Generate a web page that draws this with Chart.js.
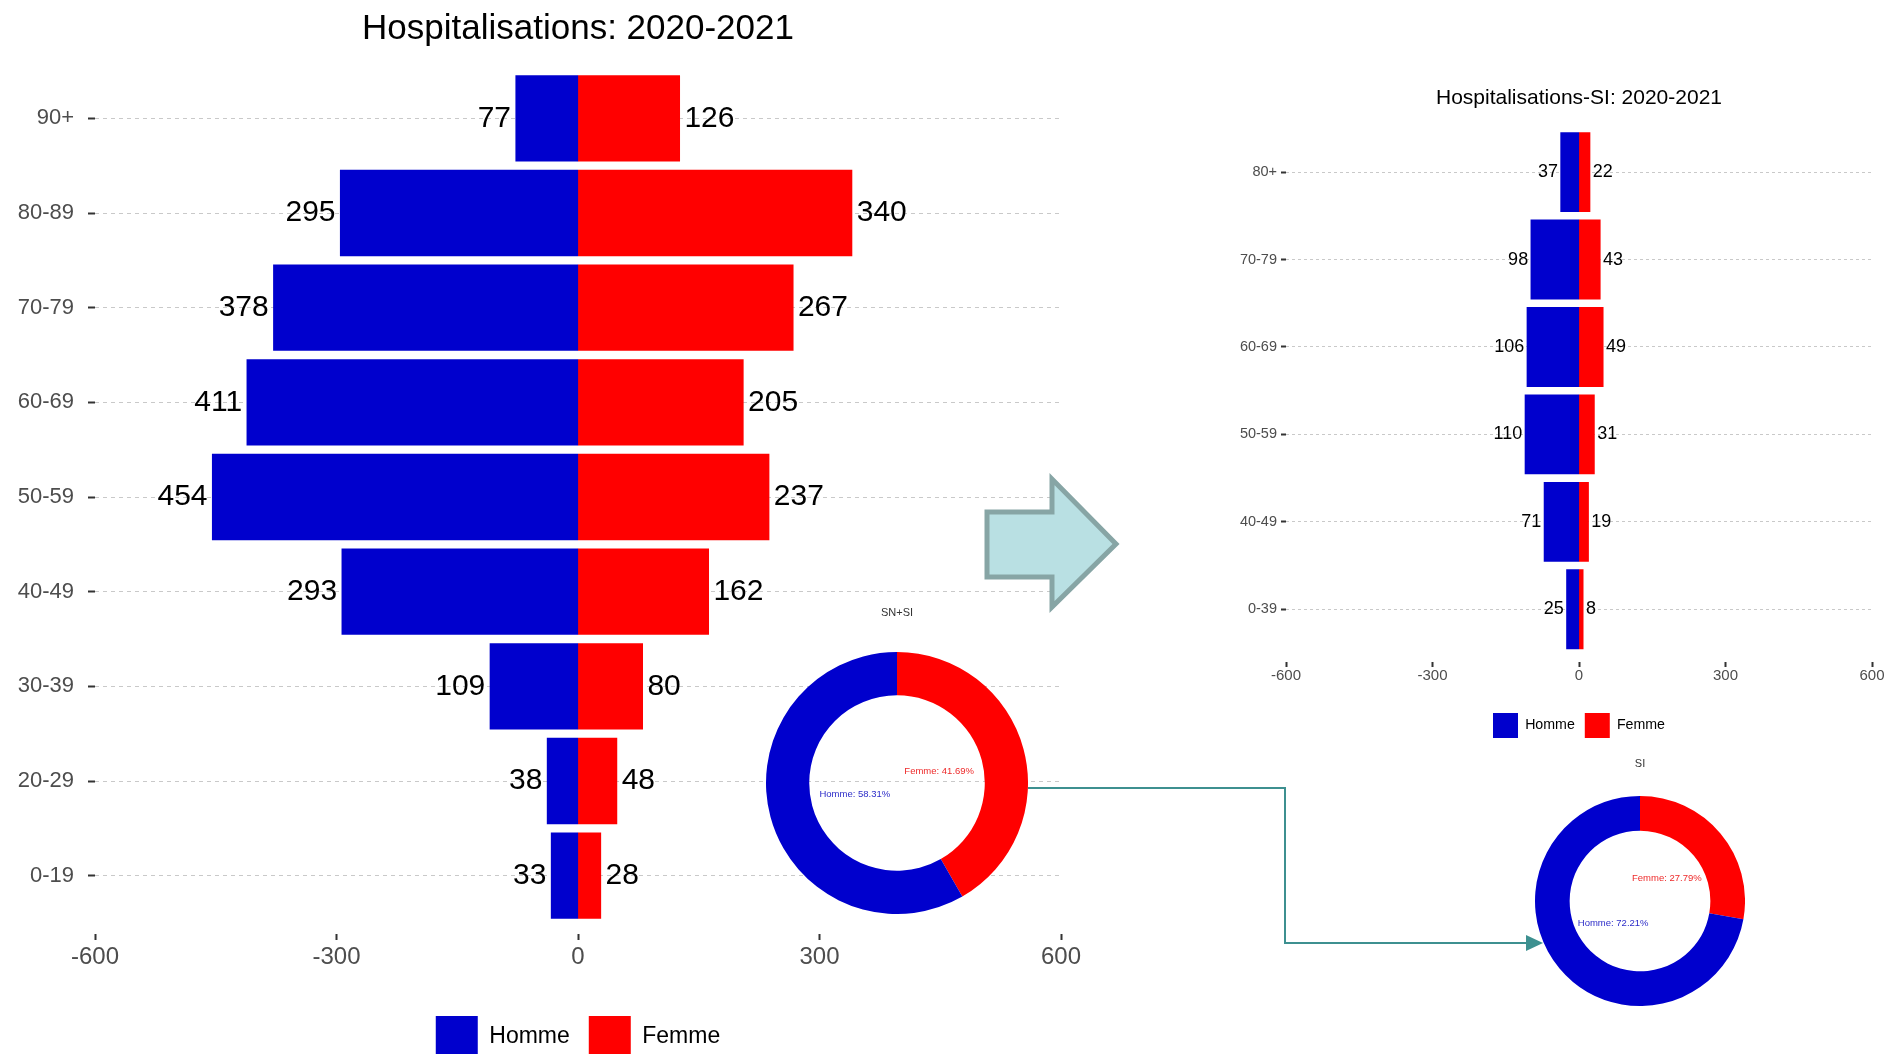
<!DOCTYPE html>
<html lang="fr">
<head>
<meta charset="UTF-8">
<title>Hospitalisations 2020-2021</title>
<script src="https://cdn.jsdelivr.net/npm/chart.js@4"></script>
<style>
  html, body { margin:0; padding:0; background:#fff; overflow:hidden; width:1886px; height:1054px; }
  .box { position:absolute; }
  #overlay { position:absolute; left:0; top:0; pointer-events:none; }
</style>
</head>
<body>
<div class="box" style="left:0;top:0;width:1100px;height:1068px;"><canvas id="main"></canvas></div>
<div class="box" style="left:1186px;top:60px;width:700px;height:688px;"><canvas id="si"></canvas></div>
<div class="box" style="left:766px;top:600px;width:262px;height:314px;"><canvas id="ring1"></canvas></div>
<div class="box" style="left:1534.5px;top:752px;width:210px;height:254px;"><canvas id="ring2"></canvas></div>

<!-- arrows drawn on top -->
<svg id="overlay" width="1886" height="1054">
  <polygon points="987,512 1052,512 1052,479 1116,544 1052,607 1052,577 987,577" fill="#b9e0e3" stroke="#87a5a5" stroke-width="5" stroke-linejoin="miter"/>
  <polyline points="1028,788 1285,788 1285,943 1528,943" fill="none" stroke="#3d9090" stroke-width="2"/>
  <polygon points="1526,935 1543,943 1526,951" fill="#3d9090"/>
</svg>

<script>
const FONT = "'Liberation Sans', Arial, sans-serif";
const BLUE = "#0000cd", RED = "#ff0000";

// SN+SI
const ages = ["90+","80-89","70-79","60-69","50-59","40-49","30-39","20-29","0-19"];
const homme = [77,295,378,411,454,293,109,38,33];
const femme = [126,340,267,205,237,162,80,48,28];

// SI
const agesSI = ["80+","70-79","60-69","50-59","40-49","0-39"];
const hommeSI = [37,98,106,110,71,25];
const femmeSI = [22,43,49,31,19,8];

const xTicks = [-600,-300,0,300,600];

Chart.defaults.font.family = FONT;
Chart.defaults.animation = false;

// value labels at the end of each bar
const barLabels = {
  id:"barLabels",
  afterDatasetsDraw(chart, args, o){
    const ctx = chart.ctx;
    ctx.save();
    ctx.font = o.size + "px " + FONT;
    ctx.fillStyle = "#000";
    ctx.textBaseline = "middle";
    chart.data.datasets.forEach((ds, di) => {
      chart.getDatasetMeta(di).data.forEach((bar, i) => {
        const v = ds.data[i], neg = v < 0;
        ctx.textAlign = neg ? "right" : "left";
        ctx.fillText(Math.abs(v), bar.x + (neg ? -o.gap : o.gap), bar.y);
      });
    });
    ctx.restore();
  }
};

// percent labels inside the ring
const ringLabels = {
  id:"ringLabels",
  afterDatasetsDraw(chart, args, o){
    const ctx = chart.ctx, ds = chart.data.datasets[0];
    const tot = ds.data.reduce((a,b)=>a+b,0);
    ctx.save();
    ctx.font = o.size + "px " + FONT;
    ctx.textAlign = "center"; ctx.textBaseline = "middle";
    chart.getDatasetMeta(0).data.forEach((arc, i) => {
      const mid = (arc.startAngle + arc.endAngle) / 2, r = arc.outerRadius / 3;
      ctx.fillStyle = o.colors[i];
      ctx.fillText(chart.data.labels[i] + ": " + (ds.data[i] / tot * 100).toFixed(2) + "%",
        arc.x + Math.cos(mid) * r, arc.y + Math.sin(mid) * r);
    });
    ctx.restore();
  }
};

function pyramid(id, labels, h, f, s){
  return new Chart(document.getElementById(id), {
    type:"bar",
    data:{
      labels:labels,
      datasets:[
        {label:"Homme", data:h.map(v=>-v), backgroundColor:BLUE, barPercentage:0.9, categoryPercentage:1, inflateAmount:0.6},
        {label:"Femme", data:f, backgroundColor:RED, barPercentage:0.9, categoryPercentage:1, inflateAmount:0.6}
      ]
    },
    options:{
      indexAxis:"y",
      responsive:true, maintainAspectRatio:false,
      layout:{padding:{left:0, right:s.padRight, top:0, bottom:0}},
      scales:{
        x:{
          stacked:true, min:-600, max:600,
          afterBuildTicks: sc => { sc.ticks = xTicks.map(v=>({value:v})); },
          afterFit: sc => { sc.height = s.xHeight; },
          grid:{display:true, drawOnChartArea:false, drawTicks:true, tickLength:s.xTick,
                tickColor:"#333", tickWidth:2, tickBorderDash:s.xDash},
          border:{display:false},
          ticks:{color:"#4d4d4d", padding:s.xPad, font:{size:s.xFont}, maxRotation:0}
        },
        y:{
          stacked:true, offset:true,
          afterFit: sc => { sc.width = s.yWidth; },
          grid:{offset:false, color:"#c9c9c9", lineWidth:1, tickColor:"#333", tickWidth:2, tickLength:s.yTick},
          border:{display:false, dash:s.gridDash},
          ticks:{color:"#4d4d4d", padding:s.yPad, font:{size:s.yFont}}
        }
      },
      plugins:{
        title:{display:true, text:s.title, color:"#000", fullSize:false,
               font:{size:s.titleSize, weight:"normal"}, padding:{top:s.tTop, bottom:s.tBot}},
        legend:{position:"bottom", fullSize:false,
                labels:{boxWidth:s.box, boxHeight:s.boxH, padding:s.legPad, color:"#000", font:{size:s.legFont}}},
        tooltip:{enabled:false},
        barLabels:{size:s.valFont, gap:s.gap}
      }
    },
    plugins:[barLabels]
  });
}

pyramid("main", ages, homme, femme, {
  title:"Hospitalisations: 2020-2021", titleSize:35, tTop:8, tBot:21,
  padRight:39, yWidth:95, yTick:7, yPad:14, yFont:22,
  xHeight:74, xTick:17, xDash:[0,11,6,100], xPad:3, xFont:24,
  gridDash:[4,4], box:42, boxH:42, legPad:19, legFont:23,
  valFont:30, gap:5
});

pyramid("si", agesSI, hommeSI, femmeSI, {
  title:"Hospitalisations-SI: 2020-2021", titleSize:21, tTop:26, tBot:17.2,
  padRight:14, yWidth:100, yTick:5, yPad:4, yFont:14.5,
  xHeight:50, xTick:14, xDash:[0,9,5,100], xPad:0, xFont:15,
  gridDash:[3,3], box:25, boxH:25, legPad:10, legFont:14.2,
  valFont:18, gap:3
});

function ring(id, title, h, f, top, bot){
  const sh = h.reduce((a,b)=>a+b,0), sf = f.reduce((a,b)=>a+b,0);
  return new Chart(document.getElementById(id), {
    type:"doughnut",
    data:{labels:["Femme","Homme"], datasets:[{data:[sf,sh], backgroundColor:[RED,BLUE], borderWidth:0}]},
    options:{
      responsive:true, maintainAspectRatio:false, cutout:"67%",
      plugins:{
        title:{display:true, text:title, color:"#333", font:{size:11, weight:"normal"}, padding:{top:top, bottom:bot}},
        legend:{display:false}, tooltip:{enabled:false},
        ringLabels:{size:9.5, colors:["#ee2a2a","#2c2cc8"]}
      }
    },
    plugins:[ringLabels]
  });
}

ring("ring1", "SN+SI", homme, femme, 6.4, 32.4);
ring("ring2", "SI", hommeSI, femmeSI, 5.4, 25.4);
</script>
</body>
</html>
